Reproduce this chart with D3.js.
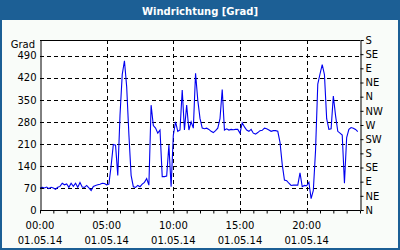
<!DOCTYPE html>
<html>
<head>
<meta charset="utf-8">
<script src="https://cdn.jsdelivr.net/npm/d3@7"></script>
<style>
  body { margin: 0; background: #fff; }
  svg { display: block; font-family: "DejaVu Sans", sans-serif; }
</style>
</head>
<body>
<div id="canva"></div>
<script>
// 10-minute readings, 01.05.14
var times = ["00:00","00:10","00:20","00:30","00:40","00:50","01:00","01:10","01:20","01:30","01:40","01:50",
  "02:00","02:10","02:20","02:30","02:40","02:50","03:00","03:10","03:20","03:30","03:40","03:50",
  "04:00","04:10","04:20","04:30","04:40","04:50","05:00","05:10","05:20","05:30","05:40","05:50",
  "06:00","06:10","06:20","06:30","06:40","06:50","07:00","07:10","07:20","07:30","07:40","07:50",
  "08:00","08:10","08:20","08:30","08:40","08:50","09:00","09:10","09:20","09:30","09:40","09:50",
  "10:00","10:10","10:20","10:30","10:40","10:50","11:00","11:10","11:20","11:30","11:40","11:50",
  "12:00","12:10","12:20","12:30","12:40","12:50","13:00","13:10","13:20","13:30","13:40","13:50",
  "14:00","14:10","14:20","14:30","14:40","14:50","15:00","15:10","15:20","15:30","15:40","15:50",
  "16:00","16:10","16:20","16:30","16:40","16:50","17:00","17:10","17:20","17:30","17:40","17:50",
  "18:00","18:10","18:20","18:30","18:40","18:50","19:00","19:10","19:20","19:30","19:40","19:50",
  "20:00","20:10","20:20","20:30","20:40","20:50","21:00","21:10","21:20","21:30","21:40","21:50",
  "22:00","22:10","22:20","22:30","22:40","22:50","23:00","23:10","23:20","23:30","23:40","23:50"];

var richtung = [70,72,70,73,68,72,70,66,72,75,85,80,
  83,72,85,75,85,72,87,73,72,78,70,62,
  75,78,80,82,85,84,80,82,140,208,206,110,
  300,430,474,392,240,110,74,72,78,74,82,88,
  100,79,333,268,260,244,254,106,106,108,206,74,
  238,280,250,254,381,254,333,254,280,260,434,349,
  291,260,258,260,256,250,246,252,260,290,383,254,
  258,254,256,255,256,256,244,277,264,254,250,256,
  244,241,246,252,253,260,258,254,250,252,252,250,
  215,145,95,93,85,78,79,79,79,118,74,78,
  77,88,36,62,190,400,432,462,430,290,256,258,
  362,300,250,244,238,85,230,256,262,260,256,249];

var gradTicks = [0,70,140,210,280,350,420,490];
var windTicks = [0,45,90,135,180,225,270,315,360,405,450,495,540];
var windNames = ["N","NE","E","SE","S","SW","W","NW","N","NE","E","SE","S"];
var labelHours = [0,5,10,15,20];
var datum = "01.05.14";

var W = 400, H = 250;
var margin = {top: 40, left: 40, right: 40, bottom: 40};

var svg = d3.select("#canva").append("svg")
  .attr("width", W).attr("height", H);

// frame + title bar
svg.append("rect").attr("x",0).attr("y",0).attr("width",W).attr("height",H).attr("fill","#1c5f95");
svg.append("rect").attr("x",2).attr("y",20).attr("width",W-4).attr("height",H-22).attr("fill","#f9fcf9");
svg.append("text").attr("x",W/2).attr("y",15).attr("text-anchor","middle")
  .attr("fill","#fff").attr("font-weight","bold").attr("font-size","10px")
  .text("Windrichtung [Grad]");

var parse = d3.timeParse("%d.%m.%y %H:%M");
var t0 = parse(datum + " 00:00");
var t1 = d3.timeDay.offset(t0, 1);

var x = d3.scaleTime().domain([t0, t1]).range([margin.left, W - margin.right]);
var y = d3.scaleLinear().domain([0, 540]).range([H - margin.bottom, margin.top]);

svg.append("rect").attr("x",x.range()[0]).attr("y",y.range()[1])
  .attr("width",x.range()[1]-x.range()[0]).attr("height",y.range()[0]-y.range()[1]).attr("fill","#fff");

// grid
svg.selectAll(".hgrid").data(gradTicks.slice(1)).enter().append("line")
  .attr("x1", x.range()[0]).attr("x2", x.range()[1])
  .attr("y1", d => Math.round(y(d)) + 0.5).attr("y2", d => Math.round(y(d)) + 0.5)
  .attr("stroke","#000").attr("stroke-dasharray","4,3");
svg.selectAll(".vgrid").data(labelHours.slice(1)).enter().append("line")
  .attr("x1", d => Math.round(x(d3.timeHour.offset(t0,d))) + 0.5)
  .attr("x2", d => Math.round(x(d3.timeHour.offset(t0,d))) + 0.5)
  .attr("y1", y.range()[1]).attr("y2", y.range()[0])
  .attr("stroke","#000").attr("stroke-dasharray","4,3");

// series
var data = times.map((t,i) => ({t: parse(datum + " " + t), v: richtung[i]}));
var line = d3.line().x(d => x(d.t)).y(d => y(d.v));
svg.append("path").datum(data).attr("d", line)
  .attr("fill","none").attr("stroke","#0000f0").attr("stroke-width",1.1);

// plot border top
svg.append("line").attr("x1",x.range()[0]).attr("x2",x.range()[1])
  .attr("y1",y.range()[1]+0.5).attr("y2",y.range()[1]+0.5).attr("stroke","#000");

// axes
var fs = "10px";
var yl = svg.append("g").attr("transform","translate(" + (margin.left+0.5) + ",0)")
  .call(d3.axisLeft(y).tickValues(gradTicks).tickSize(0).tickPadding(4));
var yr = svg.append("g").attr("transform","translate(" + (W-margin.right+0.5) + ",0)")
  .call(d3.axisRight(y).tickValues(windTicks).tickSize(3).tickPadding(2)
    .tickFormat((d,i) => windNames[i]));
var xa = svg.append("g").attr("transform","translate(0," + (H-margin.bottom+0.5) + ")")
  .call(d3.axisBottom(x).ticks(d3.timeHour.every(1)).tickSize(3).tickFormat(""));
[yl, yr, xa].forEach(function(g){
  g.select(".domain").attr("stroke","#000");
  g.selectAll(".tick line").attr("stroke","#000");
  g.selectAll("text").attr("fill","#000").attr("font-size",fs).attr("font-family","DejaVu Sans");
});
xa.select(".domain").attr("d","M" + x.range()[0] + ",0H" + x.range()[1]);

var lab = svg.selectAll(".xlab").data(labelHours).enter().append("g")
  .attr("transform", d => "translate(" + x(d3.timeHour.offset(t0,d)) + ",0)");
lab.append("text").attr("y",229).attr("text-anchor","middle").attr("font-size",fs)
  .text(d => d3.timeFormat("%H:%M")(d3.timeHour.offset(t0,d)));
lab.append("text").attr("y",244).attr("text-anchor","middle").attr("font-size",fs)
  .text(datum);

svg.append("text").attr("x",35).attr("y",48).attr("text-anchor","end").attr("font-size",fs).text("Grad");
</script>
</body>
</html>
